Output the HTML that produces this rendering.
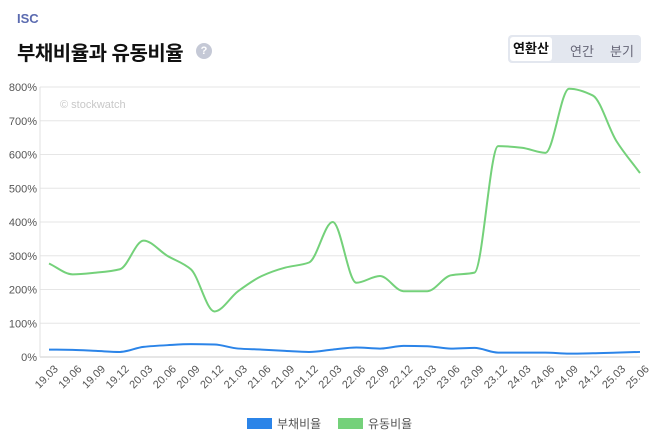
<!DOCTYPE html>
<html><head><meta charset="utf-8"><style>
body{margin:0;background:#fff;font-family:"Liberation Sans","Noto Sans CJK KR",sans-serif;}
#w{position:relative;width:658px;height:439px;overflow:hidden}
.isc{position:absolute;left:17px;top:11px;font-size:13px;font-weight:bold;color:#5b6bb0}
.tt{position:absolute;left:17px;top:37px;font-size:20px;font-weight:bold;color:#111;letter-spacing:-0.5px}
.q{position:absolute;left:196px;top:43px;width:16px;height:16px;border-radius:50%;background:#c5c9d6;color:#fff;font-size:11px;text-align:center;line-height:16px;font-weight:bold}
.tabs{position:absolute;left:508px;top:35px;width:133px;height:28px;background:#e3e7ef;border-radius:4px;font-size:13px}
.tabs span{position:absolute;top:6px;color:#667}
.tabs .a{left:2px;top:2px;width:42px;height:24px;background:#fff;border-radius:3px;color:#111;font-weight:bold;text-align:center;line-height:24px}
</style></head><body><div id="w">
<div class="isc">ISC</div>
<div class="tt">부채비율과 유동비율</div>
<div class="q">?</div>
<div class="tabs"><span class="a">연환산</span><span style="left:62px">연간</span><span style="left:102px">분기</span></div>
<svg id="s" width="658" height="439" style="position:absolute;left:0;top:0"></svg>
</div>
<script>
var s=document.getElementById('s'),h='';
var L=['19.03','19.06','19.09','19.12','20.03','20.06','20.09','20.12','21.03','21.06','21.09','21.12','22.03','22.06','22.09','22.12','23.03','23.06','23.09','23.12','24.03','24.06','24.09','24.12','25.03','25.06'];
var G=[277,245,250,260,345,300,260,135,195,240,265,280,400,220,240,195,195,242,250,625,620,605,795,775,640,545];
var B=[22,21,18,15,30,35,38,37,25,22,18,15,22,28,25,33,32,25,27,13,13,13,10,11,13,15];
function X(i){return 49+i*23.64}function Y(v){return 357-v*0.3375}
for(var k=0;k<=8;k++){var y=357-k*33.75;h+='<line x1="40" x2="640" y1="'+y+'" y2="'+y+'" stroke="'+(k?'#e6e6e6':'#ccc')+'"/>';h+='<text x="37" y="'+(y+4)+'" font-size="11" fill="#555" text-anchor="end">'+k*100+'%</text>';}
h+='<line x1="40" x2="40" y1="87" y2="357" stroke="#e0e0e0"/>';
h+='<text x="60" y="108" font-size="11" fill="#c8c8c8">© stockwatch</text>';
function path(a){var n=a.length,x=[],y=[],d=[],m=[];for(var i=0;i<n;i++){x.push(X(i));y.push(Y(a[i]));}
for(i=0;i<n-1;i++)d.push((y[i+1]-y[i])/(x[i+1]-x[i]));
m[0]=d[0];m[n-1]=d[n-2];for(i=1;i<n-1;i++){if(d[i-1]*d[i]<=0)m[i]=0;else{m[i]=2/(1/d[i-1]+1/d[i]);}}
var p='M'+x[0]+','+y[0];for(i=0;i<n-1;i++){var dx=(x[i+1]-x[i])/3;p+='C'+(x[i]+dx)+','+(y[i]+m[i]*dx)+' '+(x[i+1]-dx)+','+(y[i+1]-m[i+1]*dx)+' '+x[i+1]+','+y[i+1];}return p;}
h+='<path d="'+path(G)+'" fill="none" stroke="#74d17a" stroke-width="2"/>';
h+='<path d="'+path(B)+'" fill="none" stroke="#2b84e8" stroke-width="2"/>';
L.forEach(function(l,i){var x=X(i)+4,y=364;h+='<text transform="translate('+x+','+y+') rotate(-45)" font-size="11" fill="#555" text-anchor="end" dy="8">'+l+'</text>';});
h+='<rect x="247" y="418" width="25" height="11" fill="#2b84e8"/><text x="277" y="428" font-size="12" fill="#555">부채비율</text>';
h+='<rect x="338" y="418" width="25" height="11" fill="#74d17a"/><text x="368" y="428" font-size="12" fill="#555">유동비율</text>';
s.innerHTML=h;
</script></body></html>
